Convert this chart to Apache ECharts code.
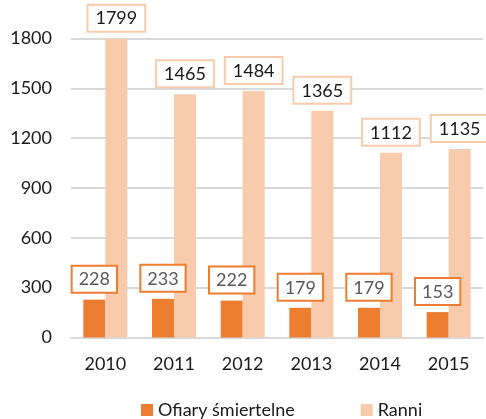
<!DOCTYPE html>
<html lang="pl">
<head>
<meta charset="UTF-8">
<title>Ofiary i ranni</title>
<script src="https://cdn.jsdelivr.net/npm/echarts@6/dist/echarts.min.js"></script>
<style>
  html, body { margin: 0; padding: 0; background: #fff; }
  #main { width: 486px; height: 419px; }
</style>
</head>
<body>
<div id="main"></div>
<script>
// dane
var lata = ['2010', '2011', '2012', '2013', '2014', '2015'];
var ofiary = [228, 233, 222, 179, 179, 153];
var ranni = [1799, 1465, 1484, 1365, 1112, 1135];

var czcionka = 'Lato, "Open Sans", sans-serif';

var myChart = echarts.init(document.getElementById('main'));
var option = {
    animation: false,
    textStyle: { fontFamily: czcionka },
    grid: { left: 71, right: 3, top: 38.5, bottom: 81.5 },
    legend: {
        left: 136,
        top: 396,
        itemWidth: 12,
        itemHeight: 12,
        itemGap: 66,
        icon: 'rect',
        textStyle: { fontSize: 18, color: '#1a1a1a', fontFamily: czcionka },
        data: ['Ofiary śmiertelne', 'Ranni']
    },
    xAxis: {
        type: 'category',
        data: lata,
        axisLine: { lineStyle: { color: '#d9d9d9', width: 2 } },
        axisTick: { show: false },
        axisLabel: { fontSize: 18, color: '#1a1a1a', margin: 18 }
    },
    yAxis: {
        type: 'value',
        min: 0,
        max: 1800,
        interval: 300,
        axisLine: { show: false },
        axisTick: { show: false },
        axisLabel: {
            fontSize: 18,
            color: '#1a1a1a',
            margin: 19,
            formatter: function (v) { return String(v); }
        },
        splitLine: { lineStyle: { color: '#d9d9d9', width: 2 } }
    },
    series: [
        {
            name: 'Ofiary śmiertelne',
            type: 'bar',
            data: ofiary,
            barWidth: 22,
            barGap: '0%',
            itemStyle: { color: '#ED7D31' },
            label: {
                show: true,
                position: 'top',
                distance: 8,
                fontSize: 18,
                color: '#595959',
                backgroundColor: '#fff',
                borderColor: '#ED7D31',
                borderWidth: 2,
                padding: [4, 6, 3, 6]
            }
        },
        {
            name: 'Ranni',
            type: 'bar',
            data: ranni,
            barWidth: 22,
            itemStyle: { color: '#F8CBAD' },
            label: {
                show: true,
                position: 'top',
                distance: 8,
                fontSize: 18,
                color: '#1a1a1a',
                backgroundColor: '#fff',
                borderColor: '#F8CBAD',
                borderWidth: 2,
                padding: [4, 7, 3, 7]
            }
        }
    ]
};
myChart.setOption(option);
</script>
</body>
</html>
